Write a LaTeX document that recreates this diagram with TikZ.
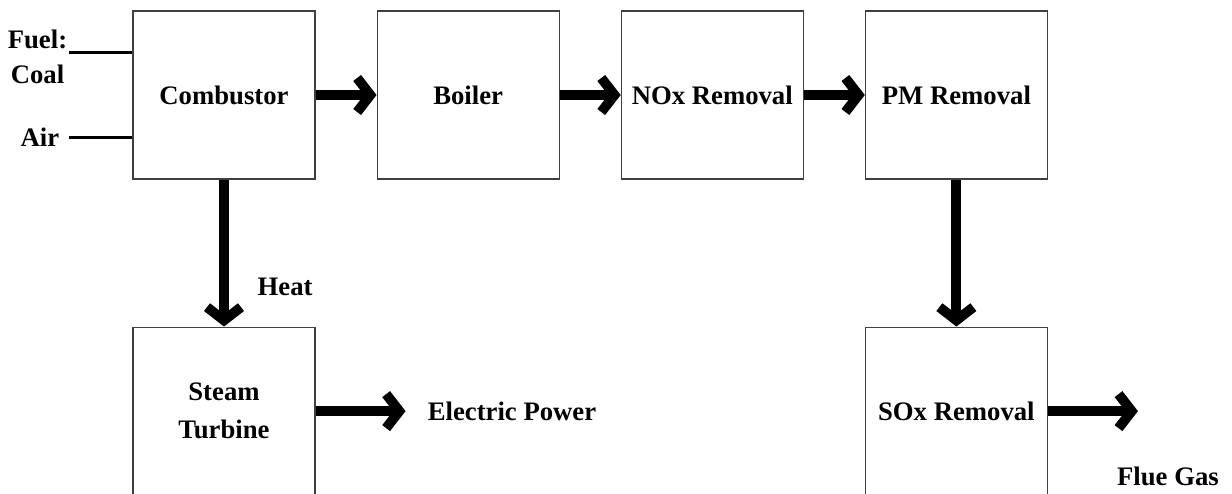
\documentclass[tikz,border=0pt]{standalone}
\usepackage{fontspec}
\setmainfont{Liberation Serif}
\usetikzlibrary{positioning,arrows.meta}

\begin{document}
\begin{tikzpicture}[node distance=3.675cm and 1.525cm,
        font=\fontsize{19}{25}\selectfont\bfseries,
        unit/.style={draw=black!75, line width=0.8pt, rectangle, minimum width=4.55cm, minimum height=4.2cm, inner sep=0pt, align=center},
        flow/.style={line width=7pt, -{Straight Barb[length=0.33cm,width=0.85cm,line cap=butt,line join=miter]}},
        feed/.style={line width=2.2pt},
        tag/.style={inner sep=0pt, align=center}]
        \useasboundingbox (0,0) rectangle (30.8,-12.325);

        \node (comb) [unit] at (5.6,-2.375) {Combustor};
        \node (boil) [unit, right=of comb] {Boiler};
        \node (nox) [unit, right=of boil] {NOx Removal};
        \node (pm) [unit, right=of nox] {PM Removal};
        \node (turb) [unit, below=of comb, font=\fontsize{19}{27}\selectfont\bfseries] {Steam\\Turbine};
        \node (sox) [unit, below=of pm] {SOx Removal};

        % inputs
        \coordinate (fuelin) at ([shift={(-1.575cm,-1.05cm)}]comb.north west);
        \coordinate (airin) at ([shift={(-1.575cm,1.05cm)}]comb.south west);
        \node (fuel) [tag, left=0.05cm of fuelin, yshift=-0.1cm] {Fuel:\\Coal};
        \node (air) [tag, left=0.25cm of airin] {Air};
        \draw[feed] (fuelin) -- (fuelin -| comb.west);
        \draw[feed] (airin) -- (airin -| comb.west);

        % gas path
        \draw[flow] (comb) -- (boil);
        \draw[flow] (boil) -- (nox);
        \draw[flow] (nox) -- (pm);
        \draw[flow] (pm) -- (sox);
        \draw[flow] (comb) -- node (heat) [pos=0.73, right=0.6cm] {Heat} (turb);

        % outputs
        \coordinate (eptip) at ([xshift=2.25cm]turb.east);
        \coordinate (gastip) at ([xshift=2.25cm]sox.east);
        \node (power) [tag, right=0.55cm of eptip] {Electric Power};
        \node (flue) [tag] at ([shift={(0.75cm,-1.625cm)}]gastip) {Flue Gas};
        \draw[flow] (turb) -- (eptip);
        \draw[flow] (sox) -- (gastip);
\end{tikzpicture}
\end{document}
